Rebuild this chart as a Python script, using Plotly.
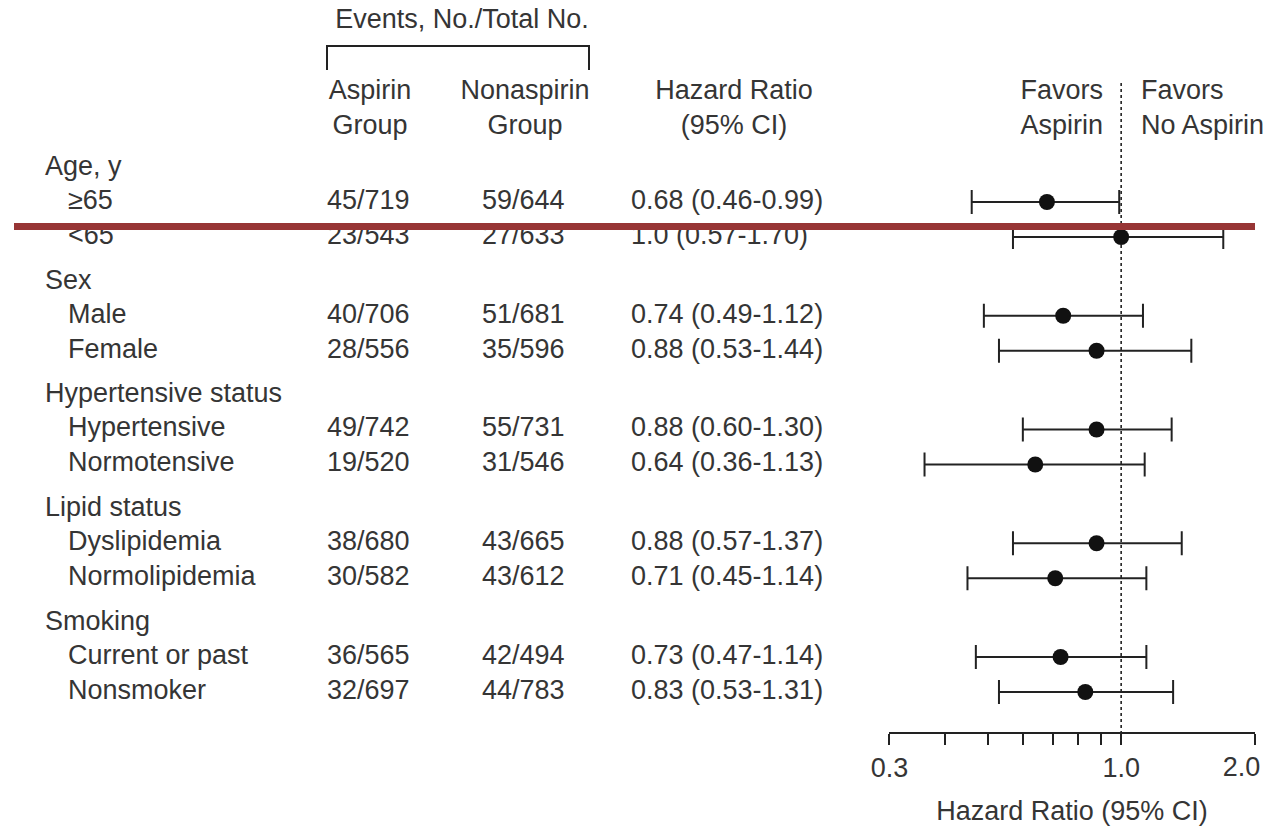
import math
import plotly.graph_objects as go

# ---- data -------------------------------------------------------------
group_names = ["Age, y", "Sex", "Hypertensive status", "Lipid status", "Smoking"]
subgroup_names = [
    ["≥65", "<65"],
    ["Male", "Female"],
    ["Hypertensive", "Normotensive"],
    ["Dyslipidemia", "Normolipidemia"],
    ["Current or past", "Nonsmoker"],
]
aspirin_events = [45, 23, 40, 28, 49, 19, 38, 30, 36, 32]
aspirin_total = [719, 543, 706, 556, 742, 520, 680, 582, 565, 697]
nonaspirin_events = [59, 27, 51, 35, 55, 31, 43, 43, 42, 44]
nonaspirin_total = [644, 633, 681, 596, 731, 546, 665, 612, 494, 783]
hazard_ratio = [0.68, 1.0, 0.74, 0.88, 0.88, 0.64, 0.88, 0.71, 0.73, 0.83]
ci_lower = [0.46, 0.57, 0.49, 0.53, 0.60, 0.36, 0.57, 0.45, 0.47, 0.53]
ci_upper = [0.99, 1.70, 1.12, 1.44, 1.30, 1.13, 1.37, 1.14, 1.14, 1.31]
axis_ticks = [0.3, 1.0, 2.0]
axis_tick_labels = ["0.3", "1.0", "2.0"]
axis_minor_ticks = [0.4, 0.5, 0.6, 0.7, 0.8, 0.9]

# ---- layout constants -------------------------------------------------
W, H = 1272, 826
TEXT = "#353535"
INK = "#222222"
FONT = "Liberation Sans, Arial, sans-serif"
FS = 27
AXIS_Y = 732                      # pixel row of the hazard-ratio axis line
X_LO, X_HI = 889, 1255            # pixel extent of the log axis
HR_RANGE = [math.log10(0.3) - 0.001, math.log10(2.0) + 0.001]

# vertical placement of rows (pixel units, top = 0)
GROUP_STEP = 113.75
FIRST_SUB = 202
header_y, row_y = [], []
for g in range(len(group_names)):
    s1 = FIRST_SUB + GROUP_STEP * g
    header_y.append(s1 - 34)
    row_y.extend([s1, s1 + 35])

sub_labels = [s for grp in subgroup_names for s in grp]


def fmt_hr(v):
    return "1.0" if abs(v - 1.0) < 1e-9 else f"{v:.2f}"


aspirin_text = [f"{e}/{t}" for e, t in zip(aspirin_events, aspirin_total)]
nonaspirin_text = [f"{e}/{t}" for e, t in zip(nonaspirin_events, nonaspirin_total)]
hr_text = [f"{fmt_hr(h)} ({lo:.2f}-{hi:.2f})"
           for h, lo, hi in zip(hazard_ratio, ci_lower, ci_upper)]

fig = go.Figure()


def text_col(x, y, txt, pos="middle right"):
    xs = x if isinstance(x, list) else [x] * len(txt)
    fig.add_trace(go.Scatter(
        x=xs, y=y, text=txt,
        mode="text", textposition=pos, cliponaxis=False,
        marker=dict(size=1),
        textfont=dict(family=FONT, size=FS, color=TEXT),
        xaxis="x2", yaxis="y2", hoverinfo="skip", showlegend=False))


# table columns
text_col(45, header_y, group_names)
text_col(68, row_y, sub_labels)
text_col(327, row_y, aspirin_text)
text_col(482, row_y, nonaspirin_text)
text_col(631, row_y, hr_text)

# column headings
text_col([462], [21], ["Events, No./Total No."], "middle center")
text_col([370], [110], ["Aspirin<br>Group"], "middle center")
text_col([525], [110], ["Nonaspirin<br>Group"], "middle center")
text_col([734], [110], ["Hazard Ratio<br>(95% CI)"], "middle center")
text_col([1103], [110], ["Favors<br>Aspirin"], "middle left")
text_col([1141], [110], ["Favors<br>No Aspirin"], "middle right")

# null-effect reference line
fig.add_trace(go.Scatter(
    x=[1.0, 1.0], y=[83, AXIS_Y], mode="lines",
    line=dict(color=INK, width=1.6, dash="dot"),
    xaxis="x", yaxis="y", hoverinfo="skip", showlegend=False))

# hazard ratios with 95% CI
fig.add_trace(go.Scatter(
    x=hazard_ratio, y=row_y, mode="markers",
    marker=dict(size=16, color="#111111"),
    error_x=dict(type="data", symmetric=False,
                 array=[hi - h for h, hi in zip(hazard_ratio, ci_upper)],
                 arrayminus=[h - lo for h, lo in zip(hazard_ratio, ci_lower)],
                 color=INK, thickness=2, width=12),
    xaxis="x", yaxis="y", hoverinfo="skip", showlegend=False))

# empty trace that keeps the end-label axis alive
fig.add_trace(go.Scatter(x=[], y=[], xaxis="x3", yaxis="y",
                         hoverinfo="skip", showlegend=False))

tick_font = dict(family=FONT, size=FS, color=TEXT)

fig.update_layout(
    width=W, height=H,
    margin=dict(l=0, r=0, t=0, b=0, pad=0, autoexpand=False),
    paper_bgcolor="white", plot_bgcolor="rgba(0,0,0,0)",
    font=dict(family=FONT, size=FS, color=TEXT),
    xaxis=dict(
        type="log", range=HR_RANGE,
        domain=[X_LO / W, X_HI / W],
        anchor="y", automargin=False,
        showgrid=False, zeroline=False,
        showline=True, linecolor=INK, linewidth=2,
        ticks="outside", ticklen=11, tickwidth=2, tickcolor=INK,
        tickvals=axis_ticks, ticktext=axis_tick_labels[:-1] + [""],
        tickfont=tick_font,
        minor=dict(tickvals=axis_minor_ticks, ticks="outside", ticklen=11,
                   tickwidth=2, tickcolor=INK, showgrid=False),
        title=dict(text="Hazard Ratio (95% CI)", standoff=20, font=tick_font),
    ),
    # same scale, carrying only the last tick label, nudged inward
    xaxis3=dict(
        type="log", range=HR_RANGE, overlaying="x", anchor="y",
        automargin=False, showgrid=False, zeroline=False, showline=False,
        ticks="outside", ticklen=11, tickwidth=2, tickcolor="rgba(0,0,0,0)",
        tickvals=axis_ticks[-1:], ticktext=axis_tick_labels[-1:],
        ticklabelshift=-13, ticklabeloverflow="allow", tickfont=tick_font,
    ),
    yaxis=dict(range=[AXIS_Y, 0], domain=[(H - AXIS_Y) / H, 1],
               anchor="x", visible=False, automargin=False,
               showgrid=False, zeroline=False),
    # full-canvas pixel axes for the table text
    xaxis2=dict(range=[0, W], domain=[0, 1], anchor="y2", visible=False,
                automargin=False),
    yaxis2=dict(range=[H, 0], domain=[0, 1], anchor="x2", visible=False,
                automargin=False),
    shapes=[
        # bracket over the event-count columns
        dict(type="path", xref="x2", yref="y2",
             path="M 327 70 L 327 46 L 589 46 L 589 70",
             line=dict(color=INK, width=2)),
        # horizontal rule across the table
        dict(type="line", xref="x2", yref="y2",
             x0=14, x1=1255, y0=226.5, y1=226.5,
             line=dict(color="#973535", width=7), layer="above"),
    ],
)

fig.write_html("out.html")
